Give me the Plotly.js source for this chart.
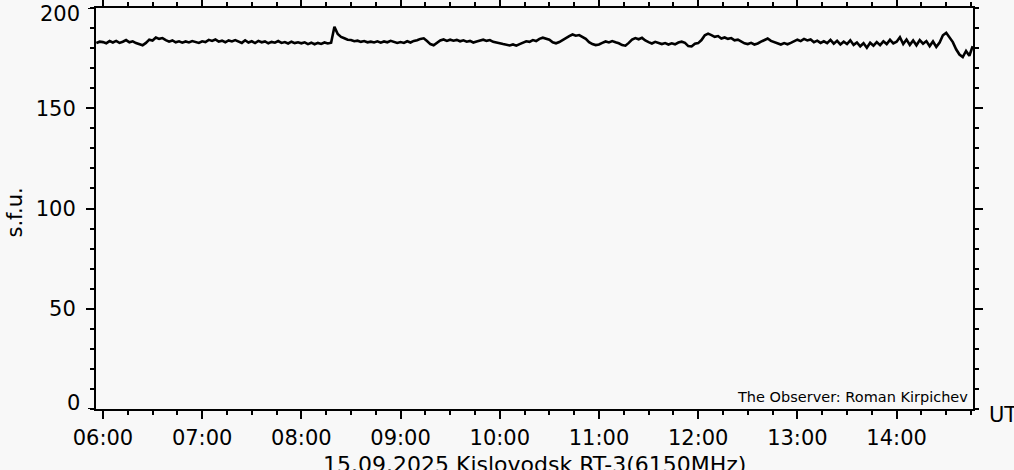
<!DOCTYPE html>
<html>
<head>
<meta charset="utf-8">
<script src="https://cdn.plot.ly/plotly-3.0.1.min.js"></script>
<style>
html,body{margin:0;padding:0;background:#f8f8f8;}
#chart{width:1014px;height:470px;}
</style>
</head>
<body>
<div id="chart"></div>
<script>
// Sampling: every 2 minutes starting at 05:56 UT, 15.09.2025
var startTime = '2025-09-15T05:56:00';
var stepMinutes = 2;

var flux0556 = [182.5, 183.2];
var flux06 = [183.0,182.4,183.5,182.8,183.6,182.6,183.2,184.0,182.9,183.4,
              182.5,182.0,181.4,182.6,184.2,183.8,185.3,184.6,185.0,184.0,
              183.2,183.8,182.9,183.4,182.7,183.3,182.8,183.5,183.0,182.6];
var flux07 = [183.4,183.0,184.1,183.6,184.3,183.2,183.7,182.9,183.8,183.3,
              184.0,183.1,182.6,183.9,182.8,183.4,182.5,183.6,182.9,183.3,
              182.4,183.1,182.7,183.5,182.6,183.0,182.3,183.2,182.5,182.9];
var flux08 = [182.4,182.9,182.0,182.7,181.9,182.6,182.1,182.8,182.3,182.7,
              190.6,187.0,185.6,184.9,184.2,184.0,183.4,183.7,183.1,183.5,
              182.9,183.2,182.8,183.4,182.7,183.3,182.9,183.6,183.0,182.6];
var flux09 = [183.0,182.6,183.4,182.8,183.6,183.9,184.6,184.9,183.5,182.0,
              181.4,182.6,183.8,184.3,183.6,184.2,183.7,184.1,183.4,183.9,
              183.2,183.6,182.8,183.3,183.8,184.2,183.6,184.0,183.1,182.6];
var flux10 = [182.4,182.0,181.6,181.3,181.8,181.2,182.0,182.8,183.4,183.1,
              184.0,183.5,184.6,185.2,184.7,184.2,182.9,182.4,183.0,184.1,
              185.3,186.0,186.8,186.2,186.5,185.4,184.6,183.0,182.0,181.5];
var flux11 = [181.8,182.6,183.3,182.8,183.5,182.9,182.4,181.5,181.2,182.6,
              184.2,185.0,184.4,185.1,183.8,183.0,182.3,183.1,182.6,182.0,
              182.5,181.8,182.4,181.9,182.8,183.2,182.6,181.0,180.8,182.2];
var flux12 = [182.5,184.0,186.4,187.2,186.5,185.6,186.0,184.8,185.3,184.6,
              185.0,183.9,184.2,183.1,182.4,182.0,182.6,181.8,182.3,183.2,
              184.0,184.8,183.6,182.9,182.2,181.8,182.5,181.9,182.6,183.4];
var flux13 = [184.2,183.5,184.6,183.8,184.3,182.9,183.7,182.6,183.4,182.5,
              184.1,182.2,183.6,181.8,183.2,182.0,183.9,181.6,182.8,180.9,
              182.4,180.2,182.7,181.2,183.0,181.5,183.4,182.0,184.1,182.3];
var flux14 = [183.2,185.4,182.0,184.3,181.6,183.8,181.4,184.0,182.2,183.5,
              181.0,183.3,180.6,182.8,186.4,187.6,185.2,183.0,179.4,176.8,
              175.5,178.6,176.2,181.0];

var yTickVals = [50, 100, 150];
var yEdgeVals = [0, 200];
var xTickLabels = ['06:00','07:00','08:00','09:00','10:00','11:00','12:00','13:00','14:00'];
var chartTitle = '15.09.2025 Kislovodsk RT-3(6150MHz)';
var yLabel = 's.f.u.';
var xUnit = 'UT';
var observer = 'The Observer: Roman Kirpichev';

var flux = [].concat(flux0556, flux06, flux07, flux08, flux09, flux10, flux11, flux12, flux13, flux14);

function pad(n){return (n<10?'0':'')+n;}
var t0 = new Date(startTime + 'Z').getTime();
var times = flux.map(function(_, i){
  var d = new Date(t0 + i*stepMinutes*60000);
  return d.getUTCFullYear()+'-'+pad(d.getUTCMonth()+1)+'-'+pad(d.getUTCDate())+' '+pad(d.getUTCHours())+':'+pad(d.getUTCMinutes())+':00';
});
var xTickVals = xTickLabels.map(function(l){return '2025-09-15 '+l+':00';});

var font = {family: 'DejaVu Sans, sans-serif', size: 21, color: '#000'};

var trace = {
  x: times, y: flux, type: 'scatter', mode: 'lines',
  line: {color: '#000', width: 2.6}, hoverinfo: 'skip'
};

var annotations = [
  {text: chartTitle, xref: 'paper', yref: 'paper', x: 0.5, y: 0, xanchor: 'center', yanchor: 'top', yshift: -42, borderpad: 0, showarrow: false, font: {family: 'DejaVu Sans, sans-serif', size: 22, color: '#000'}},
  {text: yLabel, xref: 'paper', yref: 'paper', x: 0, y: 0.5, xanchor: 'center', yanchor: 'middle', xshift: -82, yshift: -4, textangle: -90, showarrow: false, font: font},
  {text: xUnit, xref: 'paper', yref: 'paper', x: 1, y: 0, xanchor: 'left', yanchor: 'middle', xshift: 14, yshift: -6, showarrow: false, font: font},
  {text: observer, xref: 'paper', yref: 'paper', x: 1, y: 0, xanchor: 'right', yanchor: 'bottom', xshift: -3, yshift: 2, showarrow: false, font: {family: 'DejaVu Sans, sans-serif', size: 14.5, color: '#000'}}
];
yEdgeVals.forEach(function(v){
  annotations.push({text: String(v), xref: 'paper', yref: 'y', x: 0, y: v, xanchor: 'right', yanchor: 'middle',
    xshift: -14, yshift: v === 0 ? 6 : -6, showarrow: false, font: font});
});

var layout = {
  width: 1014, height: 470,
  margin: {l: 96, r: 41, t: 8, b: 61, pad: 0},
  paper_bgcolor: '#f8f8f8', plot_bgcolor: '#f8f8f8',
  font: font,
  showlegend: false,
  xaxis: {
    type: 'date',
    range: ['2025-09-15 05:55:48', '2025-09-15 14:46:12'],
    tickvals: xTickVals, ticktext: xTickLabels,
    ticks: 'outside', ticklen: 8, tickwidth: 2, tickcolor: '#000',
    minor: {dtick: 900000, tick0: '2025-09-15 06:00:00', ticks: 'outside', ticklen: 4, tickwidth: 2, tickcolor: '#000', showgrid: false},
    showline: true, linewidth: 2, linecolor: '#000', mirror: 'ticks',
    showgrid: false, zeroline: false,
    ticklabelstandoff: 1,
    tickfont: font, fixedrange: true
  },
  yaxis: {
    range: [0, 200],
    tickvals: yTickVals,
    ticks: 'outside', ticklen: 8, tickwidth: 2, tickcolor: '#000',
    minor: {dtick: 10, tick0: 0, ticks: 'outside', ticklen: 4, tickwidth: 2, tickcolor: '#000', showgrid: false},
    showline: true, linewidth: 2, linecolor: '#000', mirror: 'ticks',
    showgrid: false, zeroline: false,
    ticklabelstandoff: 6,
    tickfont: font, fixedrange: true
  },
  shapes: yEdgeVals.map(function(v){
    return {type: 'line', xref: 'paper', yref: 'y', x0: -8/877, x1: 0, y0: v, y1: v, line: {color: '#000', width: 2}};
  }),
  annotations: annotations
};

Plotly.newPlot('chart', [trace], layout, {displayModeBar: false, staticPlot: true});
</script>
</body>
</html>
